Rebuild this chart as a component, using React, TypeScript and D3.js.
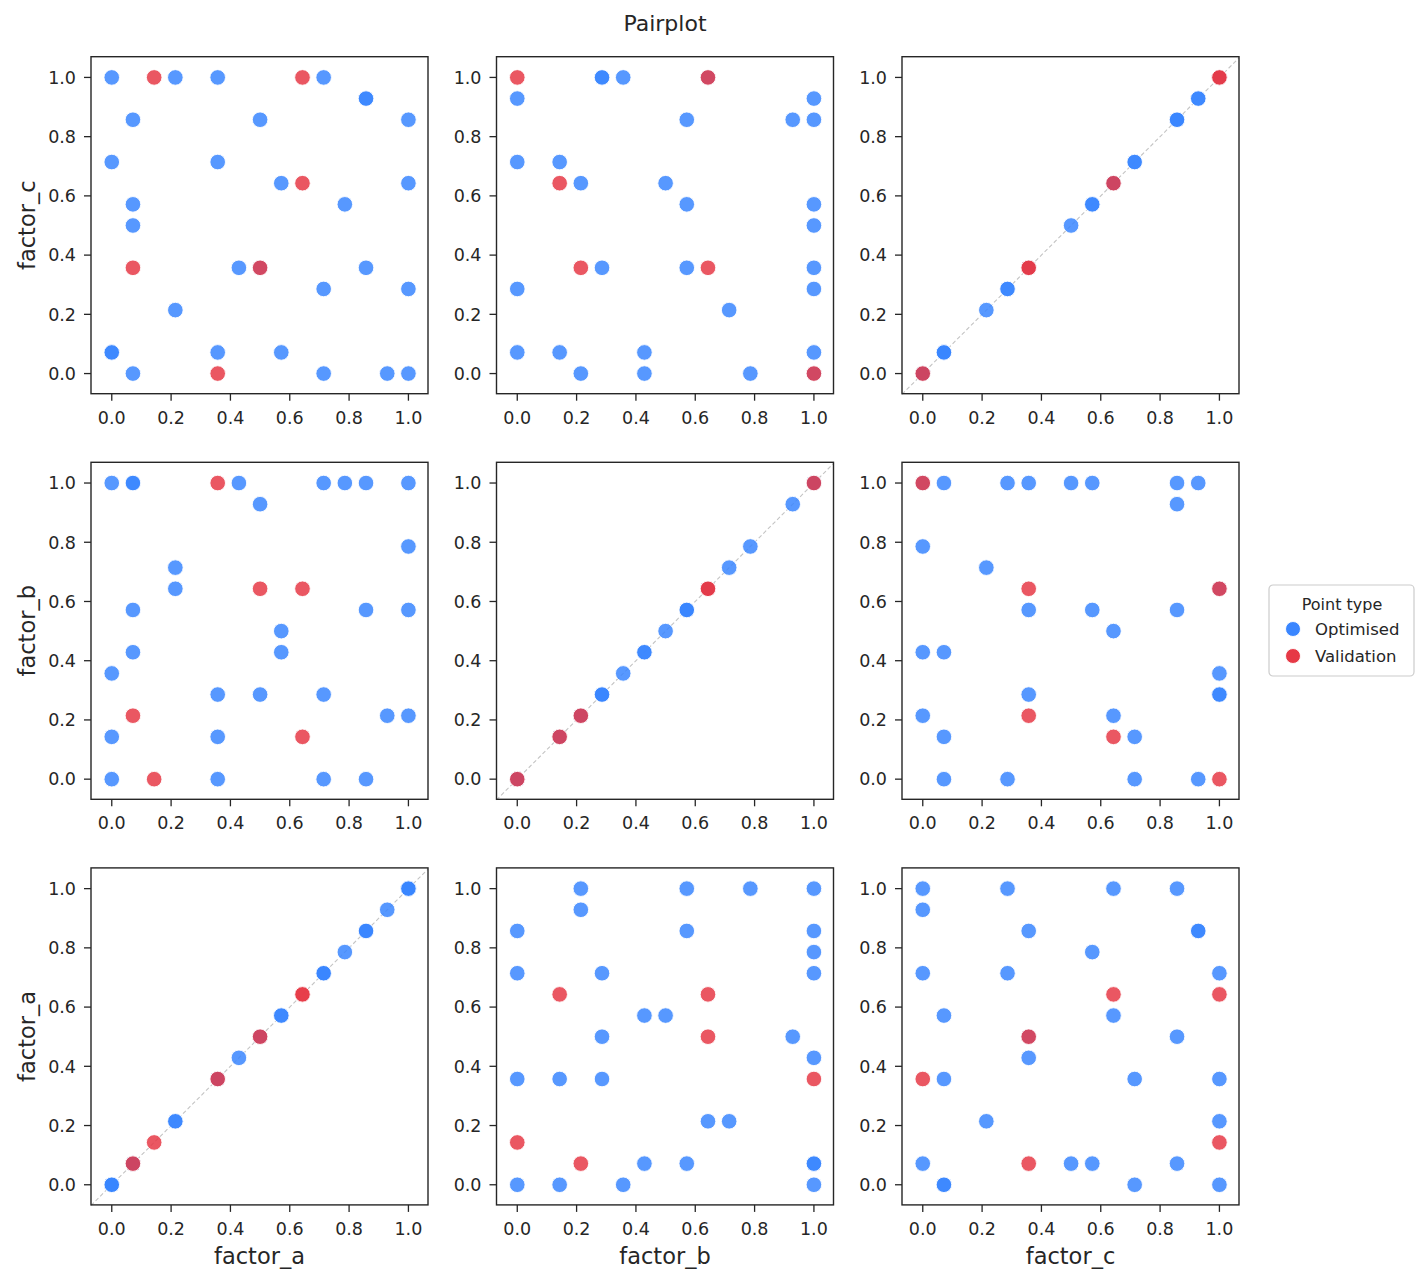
import React from "react";
import * as d3 from "d3";

// factor values for the optimised points (steps of 1/14)
const optA = [0, 0, 0, 0, 0.0714, 0.0714, 0.0714, 0.0714, 0.2143, 0.2143, 0.3571, 0.3571, 0.3571, 0.4286, 0.5, 0.5, 0.5714, 0.5714, 0.7143, 0.7143, 0.7143, 0.7857, 0.8571, 0.8571, 0.8571, 0.9286, 1, 1, 1, 1];
const optB = [1, 0.3571, 0.1429, 0, 1, 1, 0.5714, 0.4286, 0.7143, 0.6429, 0.2857, 0.1429, 0, 1, 0.9286, 0.2857, 0.5, 0.4286, 1, 0.2857, 0, 1, 1, 0.5714, 0, 0.2143, 1, 0.7857, 0.5714, 0.2143];
const optC = [0.0714, 1, 0.7143, 0.0714, 0.8571, 0.5, 0.5714, 0, 0.2143, 1, 1, 0.0714, 0.7143, 0.3571, 0.8571, 0.3571, 0.6429, 0.0714, 0, 1, 0.2857, 0.5714, 0.9286, 0.3571, 0.9286, 0, 0.2857, 0, 0.8571, 0.6429];

// validation points
const valA = [0.1429, 0.0714, 0.5, 0.3571, 0.6429, 0.6429];
const valB = [0, 0.2143, 0.6429, 1, 0.6429, 0.1429];
const valC = [1, 0.3571, 0.3571, 0, 1, 0.6429];

const factors = ["factor_a", "factor_b", "factor_c"];
const rowFactors = ["factor_c", "factor_b", "factor_a"];
const ticks = [0, 0.2, 0.4, 0.6, 0.8, 1.0];
const pointTypes = ["Optimised", "Validation"];

const BLUE = "#3a86ff";
const RED = "#e63946";
const INK = "#262626";
const FONT = "DejaVu Sans, sans-serif";

const W = 1428;
const H = 1284;
const size = 337;
const lefts = [91, 496.5, 902];
const tops = [56.7, 462.3, 867.9];

const optCols: Record<string, number[]> = { factor_a: optA, factor_b: optB, factor_c: optC };
const valCols: Record<string, number[]> = { factor_a: valA, factor_b: valB, factor_c: valC };

const x = d3.scaleLinear().domain([-0.07, 1.066]).range([0, size]);
const y = d3.scaleLinear().domain([-0.068, 1.07]).range([size, 0]);

function Panel({ xf, yf, left, top, row, col }: { xf: string; yf: string; left: number; top: number; row: number; col: number }) {
  const diag = xf === yf;
  const ox = optCols[xf], oy = optCols[yf];
  const vx = valCols[xf], vy = valCols[yf];
  const [d0, d1] = x.domain();
  return (
    <g transform={`translate(${left},${top})`}>
      {diag && (
        <line
          x1={x(d0)} y1={y(d0)} x2={x(d1)} y2={y(d1)}
          stroke="#c4c4c4" strokeWidth={1.1} strokeDasharray="4,2.5"
        />
      )}
      {ox.map((v, i) => (
        <circle key={"o" + i} cx={x(v)} cy={y(oy[i])} r={7.8} fill={BLUE} fillOpacity={0.85} stroke="#fff" strokeWidth={0.9} />
      ))}
      {vx.map((v, i) => (
        <circle key={"v" + i} cx={x(v)} cy={y(vy[i])} r={7.8} fill={RED} fillOpacity={0.85} stroke="#fff" strokeWidth={0.9} />
      ))}
      <rect x={0} y={0} width={size} height={size} fill="none" stroke={INK} strokeWidth={1.4} />
      {ticks.map((t) => (
        <g key={"xt" + t}>
          <line x1={x(t)} x2={x(t)} y1={size} y2={size + 7} stroke={INK} strokeWidth={1.3} />
          <text x={x(t)} y={size + 30} textAnchor="middle" fontSize={17.5} fill={INK} fontFamily={FONT}>
            {t.toFixed(1)}
          </text>
          <line x1={-7} x2={0} y1={y(t)} y2={y(t)} stroke={INK} strokeWidth={1.3} />
          <text x={-15} y={y(t)} dy="0.36em" textAnchor="end" fontSize={17.5} fill={INK} fontFamily={FONT}>
            {t.toFixed(1)}
          </text>
        </g>
      ))}
      {row === 2 && (
        <text x={size / 2} y={size + 59} textAnchor="middle" fontSize={22.5} fill={INK} fontFamily={FONT}>
          {xf}
        </text>
      )}
      {col === 0 && (
        <text transform={`translate(${35 - left},${size / 2}) rotate(-90)`} textAnchor="middle" fontSize={22.5} fill={INK} fontFamily={FONT}>
          {yf}
        </text>
      )}
    </g>
  );
}

export default function App() {
  return (
    <svg width={W} height={H} style={{ position: "absolute", left: 0, top: 0, background: "#fff" }}>
      <rect width={W} height={H} fill="#fff" />
      <text x={665} y={31} textAnchor="middle" fontSize={22} fill={INK} fontFamily={FONT}>
        Pairplot
      </text>
      {rowFactors.map((yf, r) =>
        factors.map((xf, c) => (
          <Panel key={yf + xf} xf={xf} yf={yf} left={lefts[c]} top={tops[r]} row={r} col={c} />
        ))
      )}
      <g transform="translate(1269,585)">
        <rect x={0} y={0} width={145} height={91} rx={4} fill="#fff" stroke="#cccccc" strokeWidth={1.2} />
        <text x={73} y={25} textAnchor="middle" fontSize={16} fill={INK} fontFamily={FONT}>
          Point type
        </text>
        {pointTypes.map((p, i) => (
          <g key={p} transform={`translate(0,${44 + i * 27})`}>
            <circle cx={24} cy={0} r={7.5} fill={i === 0 ? BLUE : RED} stroke="#fff" strokeWidth={0.9} />
            <text x={46} y={6} fontSize={16.5} fill={INK} fontFamily={FONT}>
              {p}
            </text>
          </g>
        ))}
      </g>
    </svg>
  );
}
